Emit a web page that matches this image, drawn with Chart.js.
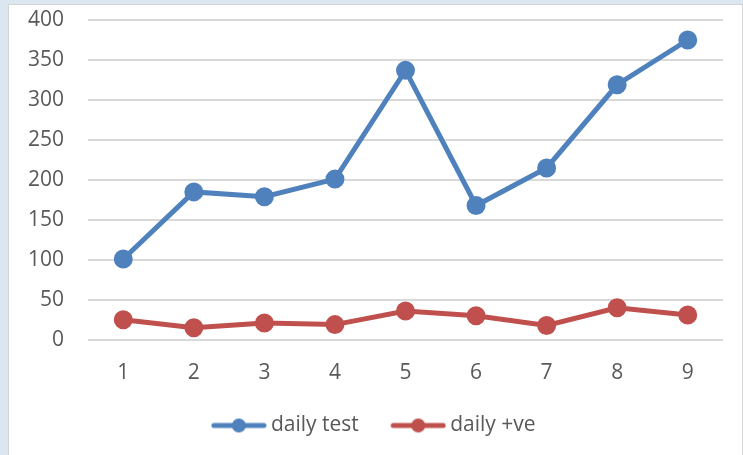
<!DOCTYPE html>
<html>
<head>
<meta charset="utf-8">
<script src="https://cdn.jsdelivr.net/npm/chart.js@4"></script>
<style>
  body { margin: 0; background: #dce6f1; }
  #panel {
    position: absolute; left: 8px; top: 4px; width: 733px; height: 451px;
    background: #fff; border: 1px solid #d4d4d4; border-bottom: none;
  }
  #chart { position: absolute; left: 0; top: 0; }
</style>
</head>
<body>
<div id="panel"></div>
<canvas id="chart" width="743" height="455"></canvas>
<script>
// data
const days = ['1', '2', '3', '4', '5', '6', '7', '8', '9'];
const dailyTest = [101, 185, 179, 201, 337, 168, 215, 319, 375];
const dailyPositive = [25, 15, 21, 19, 36, 30, 18, 40, 31];

const blue = '#4f81bd';
const red = '#c0504d';
const textColor = '#595959';
const font = { family: 'Open Sans', size: 21 };

// excel-like legend marker: line with a dot in the middle
// (left part is left transparent to space the legend items apart)
function legendMarker(color) {
  const c = document.createElement('canvas');
  c.width = 86; c.height = 16;
  const g = c.getContext('2d');
  g.strokeStyle = color;
  g.lineWidth = 5;
  g.lineCap = 'round';
  g.beginPath();
  g.moveTo(33, 8); g.lineTo(83, 8);
  g.stroke();
  g.fillStyle = color;
  g.beginPath();
  g.arc(58, 8, 7, 0, Math.PI * 2);
  g.fill();
  return c;
}
const markers = [legendMarker(blue), legendMarker(red)];

const ctx = document.getElementById('chart').getContext('2d');
new Chart(ctx, {
  type: 'line',
  data: {
    labels: days,
    datasets: [
      {
        label: 'daily test',
        data: dailyTest,
        borderColor: blue,
        backgroundColor: blue,
        borderWidth: 5,
        pointRadius: 7,
        pointHoverRadius: 7,
        tension: 0
      },
      {
        label: 'daily +ve',
        data: dailyPositive,
        borderColor: red,
        backgroundColor: red,
        borderWidth: 5,
        pointRadius: 7,
        pointHoverRadius: 7,
        tension: 0
      }
    ]
  },
  options: {
    responsive: false,
    animation: false,
    layout: { padding: { left: 0, right: 20, top: 20, bottom: 9 } },
    plugins: {
      tooltip: { enabled: false },
      legend: {
        position: 'bottom',
        labels: {
          usePointStyle: true,
          pointStyleWidth: 73,
          padding: 8,
          color: textColor,
          font: font,
          generateLabels: chart => chart.data.datasets.map((ds, i) => ({
            text: ds.label,
            pointStyle: markers[i],
            fontColor: textColor,
            lineWidth: 0,
            strokeStyle: 'transparent',
            fillStyle: ds.borderColor,
            datasetIndex: i
          }))
        }
      }
    },
    scales: {
      x: {
        offset: true,
        grid: { display: false, drawTicks: false },
        border: { display: false },
        ticks: { color: textColor, padding: 21, font: font }
      },
      y: {
        min: 0,
        max: 400,
        afterFit: s => {
          s.width = 88;
          s.paddingTop = 0;
          s.paddingBottom = 0;
        },
        grid: { color: '#d9d9d9', lineWidth: 2, drawTicks: false },
        border: { display: false },
        ticks: { stepSize: 50, color: textColor, padding: 24, font: font }
      }
    }
  }
});
</script>
</body>
</html>
